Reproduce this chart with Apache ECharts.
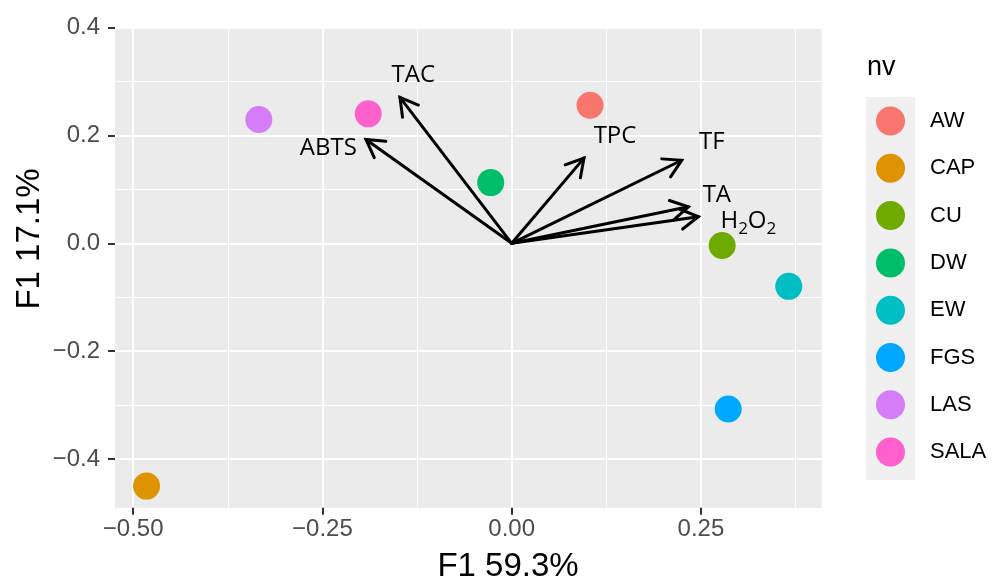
<!DOCTYPE html>
<html>
<head>
<meta charset="utf-8">
<script src="https://cdn.jsdelivr.net/npm/echarts@6/dist/echarts.min.js"></script>
<style>
html,body{margin:0;padding:0;background:#fff;}
#chart{width:995px;height:583px;}
</style>
</head>
<body>
<div id="chart"></div>
<script>
// ---- data ----
var categories = ['AW', 'CAP', 'CU', 'DW', 'EW', 'FGS', 'LAS', 'SALA'];
var pointX = [0.1035, -0.4823, 0.278, -0.0277, 0.366, 0.286, -0.334, -0.1895];
var pointY = [0.256, -0.450, -0.004, 0.1126, -0.0797, -0.307, 0.2295, 0.240];
var colors = ['#F8766D', '#DE9400', '#6FAA00', '#00BE67', '#00BFC4', '#00A9FF', '#D57DF8', '#FF61CC'];

var varNames = ['TAC', 'ABTS', 'TPC', 'TF', 'TA', 'H2O2'];
var loadX = [-0.1476, -0.1925, 0.0955, 0.2246, 0.2334, 0.2466];
var loadY = [0.2706, 0.1926, 0.158, 0.154, 0.0678, 0.0494];
var labelX = [-0.130, -0.2423, 0.1365, 0.2643, 0.271, 0.3126];
var labelY = [0.312, 0.1766, 0.1987, 0.1876, 0.0894, 0.0407];

var xMajorTicks = [-0.5, -0.25, 0, 0.25];
var xMinorTicks = [-0.375, -0.125, 0.125, 0.375];
var yMajorTicks = [-0.4, -0.2, 0, 0.2, 0.4];
var yMinorTicks = [-0.3, -0.1, 0.1, 0.3];
var xRange = [-0.524, 0.4095];
var yRange = [-0.490, 0.401];

var xTitle = 'F1 59.3%';
var yTitle = 'F1 17.1%';
var legendTitle = 'nv';

// ---- chart ----
var chart = echarts.init(document.getElementById('chart'), null, {renderer: 'canvas'});
var sansFont = 'Liberation Sans';
function minusFmt(d) {
  return function (v) { return (v < 0 ? '\u2212' : '') + Math.abs(v).toFixed(d); };
}

var series = [];
categories.forEach(function (c, i) {
  series.push({
    name: c, type: 'scatter', xAxisIndex: 0, yAxisIndex: 0,
    symbolSize: 27, itemStyle: {color: colors[i], opacity: 1},
    data: [[pointX[i], pointY[i]]], z: 3
  });
});

series.push({
  name: 'arrows', type: 'custom', xAxisIndex: 0, yAxisIndex: 0, silent: true, z: 4,
  data: varNames.map(function (n, i) { return [0, 0, loadX[i], loadY[i]]; }),
  renderItem: function (params, api) {
    var p0 = api.coord([api.value(0), api.value(1)]);
    var p1 = api.coord([api.value(2), api.value(3)]);
    var ang = Math.atan2(p1[1] - p0[1], p1[0] - p0[0]);
    var L = 20, a = Math.PI / 6;
    var h1 = [p1[0] - L * Math.cos(ang - a), p1[1] - L * Math.sin(ang - a)];
    var h2 = [p1[0] - L * Math.cos(ang + a), p1[1] - L * Math.sin(ang + a)];
    var st = {stroke: '#000', lineWidth: 3, fill: null, lineCap: 'round', lineJoin: 'miter'};
    return {type: 'group', children: [
      {type: 'line', shape: {x1: p0[0], y1: p0[1], x2: p1[0], y2: p1[1]}, style: st},
      {type: 'polyline', shape: {points: [h1, p1, h2]}, style: st}
    ]};
  }
});

series.push({
  name: 'varLabels', type: 'custom', xAxisIndex: 0, yAxisIndex: 0, silent: true, z: 5,
  data: varNames.map(function (n, i) { return [labelX[i], labelY[i], i]; }),
  renderItem: function (params, api) {
    var p = api.coord([api.value(0), api.value(1)]);
    var name = varNames[api.value(2)];
    var txt = name === 'H2O2' ? '{m|H}{s|2}{m|O}{s|2}' : '{m|' + name + '}';
    return {
      type: 'text', x: p[0], y: p[1],
      style: {
        text: txt, align: 'center', verticalAlign: 'middle', fill: '#000',
        font: '500 24px "Open Sans"',
        rich: {
          m: {fontFamily: 'Open Sans', fontSize: 24, fontWeight: 500, fill: '#000', lineHeight: 32},
          s: {fontFamily: 'Open Sans', fontSize: 17, fontWeight: 500, fill: '#000', lineHeight: 16, verticalAlign: 'bottom'}
        }
      }
    };
  }
});

var option = {
  animation: false,
  backgroundColor: '#fff',
  grid: {left: 115, top: 27, right: 173.3, bottom: 75.3, show: true, backgroundColor: '#EBEBEB', borderWidth: 0},
  xAxis: [
    {
      type: 'value', min: xRange[0], max: xRange[1], gridIndex: 0, position: 'bottom',
      axisLine: {show: false, onZero: false},
      axisTick: {show: true, customValues: xMajorTicks, length: 7, lineStyle: {color: '#333', width: 2}},
      axisLabel: {show: true, customValues: xMajorTicks, formatter: minusFmt(2), margin: 10,
                  fontSize: 24, fontFamily: sansFont, color: '#4D4D4D'},
      splitLine: {show: true, lineStyle: {color: '#FFFFFF', width: 2}}
    },
    {
      type: 'value', min: xRange[0], max: xRange[1], gridIndex: 0, position: 'bottom',
      axisLine: {show: false, onZero: false},
      axisTick: {show: false, customValues: xMinorTicks},
      axisLabel: {show: false, customValues: xMinorTicks},
      splitLine: {show: true, lineStyle: {color: '#FFFFFF', width: 1}}
    }
  ],
  yAxis: [
    {
      type: 'value', min: yRange[0], max: yRange[1], gridIndex: 0, position: 'left',
      axisLine: {show: false, onZero: false},
      axisTick: {show: true, customValues: yMajorTicks, length: 7, lineStyle: {color: '#333', width: 2}},
      axisLabel: {show: true, customValues: yMajorTicks, formatter: minusFmt(1), margin: 15,
                  fontSize: 24, fontFamily: sansFont, color: '#4D4D4D'},
      splitLine: {show: true, lineStyle: {color: '#FFFFFF', width: 2}}
    },
    {
      type: 'value', min: yRange[0], max: yRange[1], gridIndex: 0, position: 'left',
      axisLine: {show: false, onZero: false},
      axisTick: {show: false, customValues: yMinorTicks},
      axisLabel: {show: false, customValues: yMinorTicks},
      splitLine: {show: true, lineStyle: {color: '#FFFFFF', width: 1}}
    }
  ],
  legend: {
    data: categories.map(function (c) { return {name: c, icon: 'circle'}; }),
    orient: 'vertical', left: 876, top: 106.5, padding: 0,
    itemWidth: 29, itemHeight: 29, itemGap: 18.3,
    textStyle: {fontSize: 22, fontFamily: sansFont, color: '#000', padding: [0, 0, 0, 20]},
    selectedMode: false
  },
  graphic: [
    {type: 'rect', z: -1, shape: {x: 866, y: 97, width: 49, height: 383}, style: {fill: '#F0F0F0'}},
    {type: 'text', style: {text: legendTitle, x: 867, y: 68, textAlign: 'left', textVerticalAlign: 'middle',
      font: '27px "Liberation Sans"', fill: '#000'}},
    {type: 'text', style: {text: xTitle, x: 508, y: 567, textAlign: 'center', textVerticalAlign: 'middle',
      font: '33px "Liberation Sans"', fill: '#000'}},
    {type: 'text', x: 30, y: 239, rotation: Math.PI / 2, style: {text: yTitle, x: 0, y: 0, textAlign: 'center', textVerticalAlign: 'middle',
      font: '33px "Liberation Sans"', fill: '#000'}}
  ],
  series: series
};
chart.setOption(option);
</script>
</body>
</html>
